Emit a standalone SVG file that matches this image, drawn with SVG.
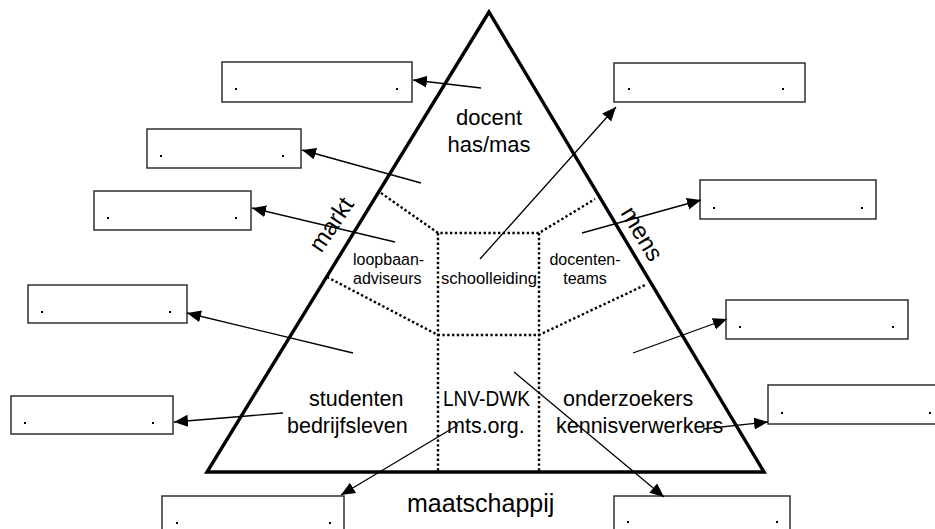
<svg xmlns="http://www.w3.org/2000/svg" width="935" height="529" viewBox="0 0 935 529">
<style>
.box{fill:#fff;stroke:#222;stroke-width:1.4}
.dot{fill:#000}
.t{font-family:"Liberation Sans",Arial,sans-serif;fill:#000}
.big{font-size:21.5px}
.small{font-size:16px}
.dotted{fill:none;stroke:#000;stroke-width:2.4;stroke-dasharray:2.4 2.4}
.arr{stroke:#000;stroke-width:1.3;fill:none;marker-end:url(#ah)}
</style>
<defs>
<marker id="ah" markerUnits="userSpaceOnUse" markerWidth="15" markerHeight="13" refX="14" refY="6" orient="auto">
<path d="M0,0 L14,6 L0,12 z" fill="#000"/>
</marker>
</defs>
<rect width="935" height="529" fill="#fff"/>

<g id="pyramid">
<polygon points="489,12 207,472 764,472" fill="none" stroke="#000" stroke-width="3.4" stroke-linejoin="miter"/>
<polyline class="dotted" points="381,193 438,233 539,233 595,199"/>
<polyline class="dotted" points="327,277 438,335 539,335 645,285"/>
<line class="dotted" x1="438" y1="233" x2="438" y2="471"/>
<line class="dotted" x1="539" y1="233" x2="539" y2="471"/>
</g>

<g id="labels">
<text class="t" x="489" y="125" font-size="22" text-anchor="middle">docent</text>
<text class="t" x="489" y="152" font-size="22" text-anchor="middle">has/mas</text>
<text class="t" font-size="24" text-anchor="middle" transform="translate(338,229) rotate(-56)">markt</text>
<text class="t" font-size="24" text-anchor="middle" transform="translate(635,238) rotate(59)">mens</text>
<text class="t small" x="353" y="265">loopbaan-</text>
<text class="t small" x="353" y="284">adviseurs</text>
<text class="t small" x="489" y="284" text-anchor="middle" textLength="96" lengthAdjust="spacingAndGlyphs">schoolleiding</text>
<text class="t small" x="585" y="265" text-anchor="middle">docenten-</text>
<text class="t small" x="585" y="284" text-anchor="middle">teams</text>
<text class="t big" x="309" y="406">studenten</text>
<text class="t big" x="287" y="433">bedrijfsleven</text>
<text class="t big" x="443" y="406" textLength="87" lengthAdjust="spacingAndGlyphs">LNV-DWK</text>
<text class="t big" x="447" y="433">mts.org.</text>
<text class="t big" x="563" y="406">onderzoekers</text>
<text class="t big" x="556" y="433">kennisverwerkers</text>
<text class="t" x="407" y="512" font-size="25">maatschappij</text>
</g>

<g id="box1"><rect class="box" x="222" y="62" width="190" height="40"/><rect class="dot" x="235" y="88" width="2" height="2"/><rect class="dot" x="396" y="88" width="2" height="2"/></g>
<g id="box2"><rect class="box" x="147" y="129" width="154" height="39"/><rect class="dot" x="160" y="155" width="2" height="2"/><rect class="dot" x="282" y="155" width="2" height="2"/></g>
<g id="box3"><rect class="box" x="94" y="191" width="157" height="39"/><rect class="dot" x="107" y="217" width="2" height="2"/><rect class="dot" x="235" y="217" width="2" height="2"/></g>
<g id="box4"><rect class="box" x="28" y="285" width="159" height="38"/><rect class="dot" x="41" y="311" width="2" height="2"/><rect class="dot" x="169" y="311" width="2" height="2"/></g>
<g id="box5"><rect class="box" x="11" y="396" width="162" height="38"/><rect class="dot" x="24" y="422" width="2" height="2"/><rect class="dot" x="152" y="422" width="2" height="2"/></g>
<g id="box6"><rect class="box" x="162" y="496" width="182" height="40"/><rect class="dot" x="176" y="522" width="2" height="2"/><rect class="dot" x="329" y="522" width="2" height="2"/></g>
<g id="box7"><rect class="box" x="614" y="496" width="176" height="40"/><rect class="dot" x="627" y="521" width="2" height="2"/><rect class="dot" x="776" y="521" width="2" height="2"/></g>
<g id="box8"><rect class="box" x="614" y="63" width="191" height="39"/><rect class="dot" x="628" y="88" width="2" height="2"/><rect class="dot" x="782" y="88" width="2" height="2"/></g>
<g id="box9"><rect class="box" x="700" y="180" width="176" height="39"/><rect class="dot" x="713" y="207" width="2" height="2"/><rect class="dot" x="861" y="207" width="2" height="2"/></g>
<g id="box10"><rect class="box" x="726" y="300" width="182" height="39"/><rect class="dot" x="739" y="326" width="2" height="2"/><rect class="dot" x="892" y="326" width="2" height="2"/></g>
<g id="box11"><rect class="box" x="768" y="385" width="176" height="39"/><rect class="dot" x="781" y="412" width="2" height="2"/><rect class="dot" x="929" y="412" width="2" height="2"/></g>

<g id="connectors">
<line class="arr" x1="481" y1="88" x2="413" y2="80"/>
<line class="arr" x1="421" y1="183" x2="302" y2="150"/>
<line class="arr" x1="395" y1="242" x2="252" y2="208"/>
<line class="arr" x1="353" y1="353" x2="187" y2="313"/>
<line class="arr" x1="283" y1="413" x2="174" y2="422"/>
<line class="arr" x1="458" y1="425" x2="341" y2="495"/>
<line class="arr" x1="514" y1="372" x2="664" y2="497"/>
<line class="arr" x1="480" y1="259" x2="616" y2="107"/>
<line class="arr" x1="582" y1="233" x2="701" y2="200"/>
<line class="arr" x1="633" y1="353" x2="727" y2="319"/>
<line class="arr" x1="703" y1="429" x2="768" y2="422"/>
</g>
</svg>
